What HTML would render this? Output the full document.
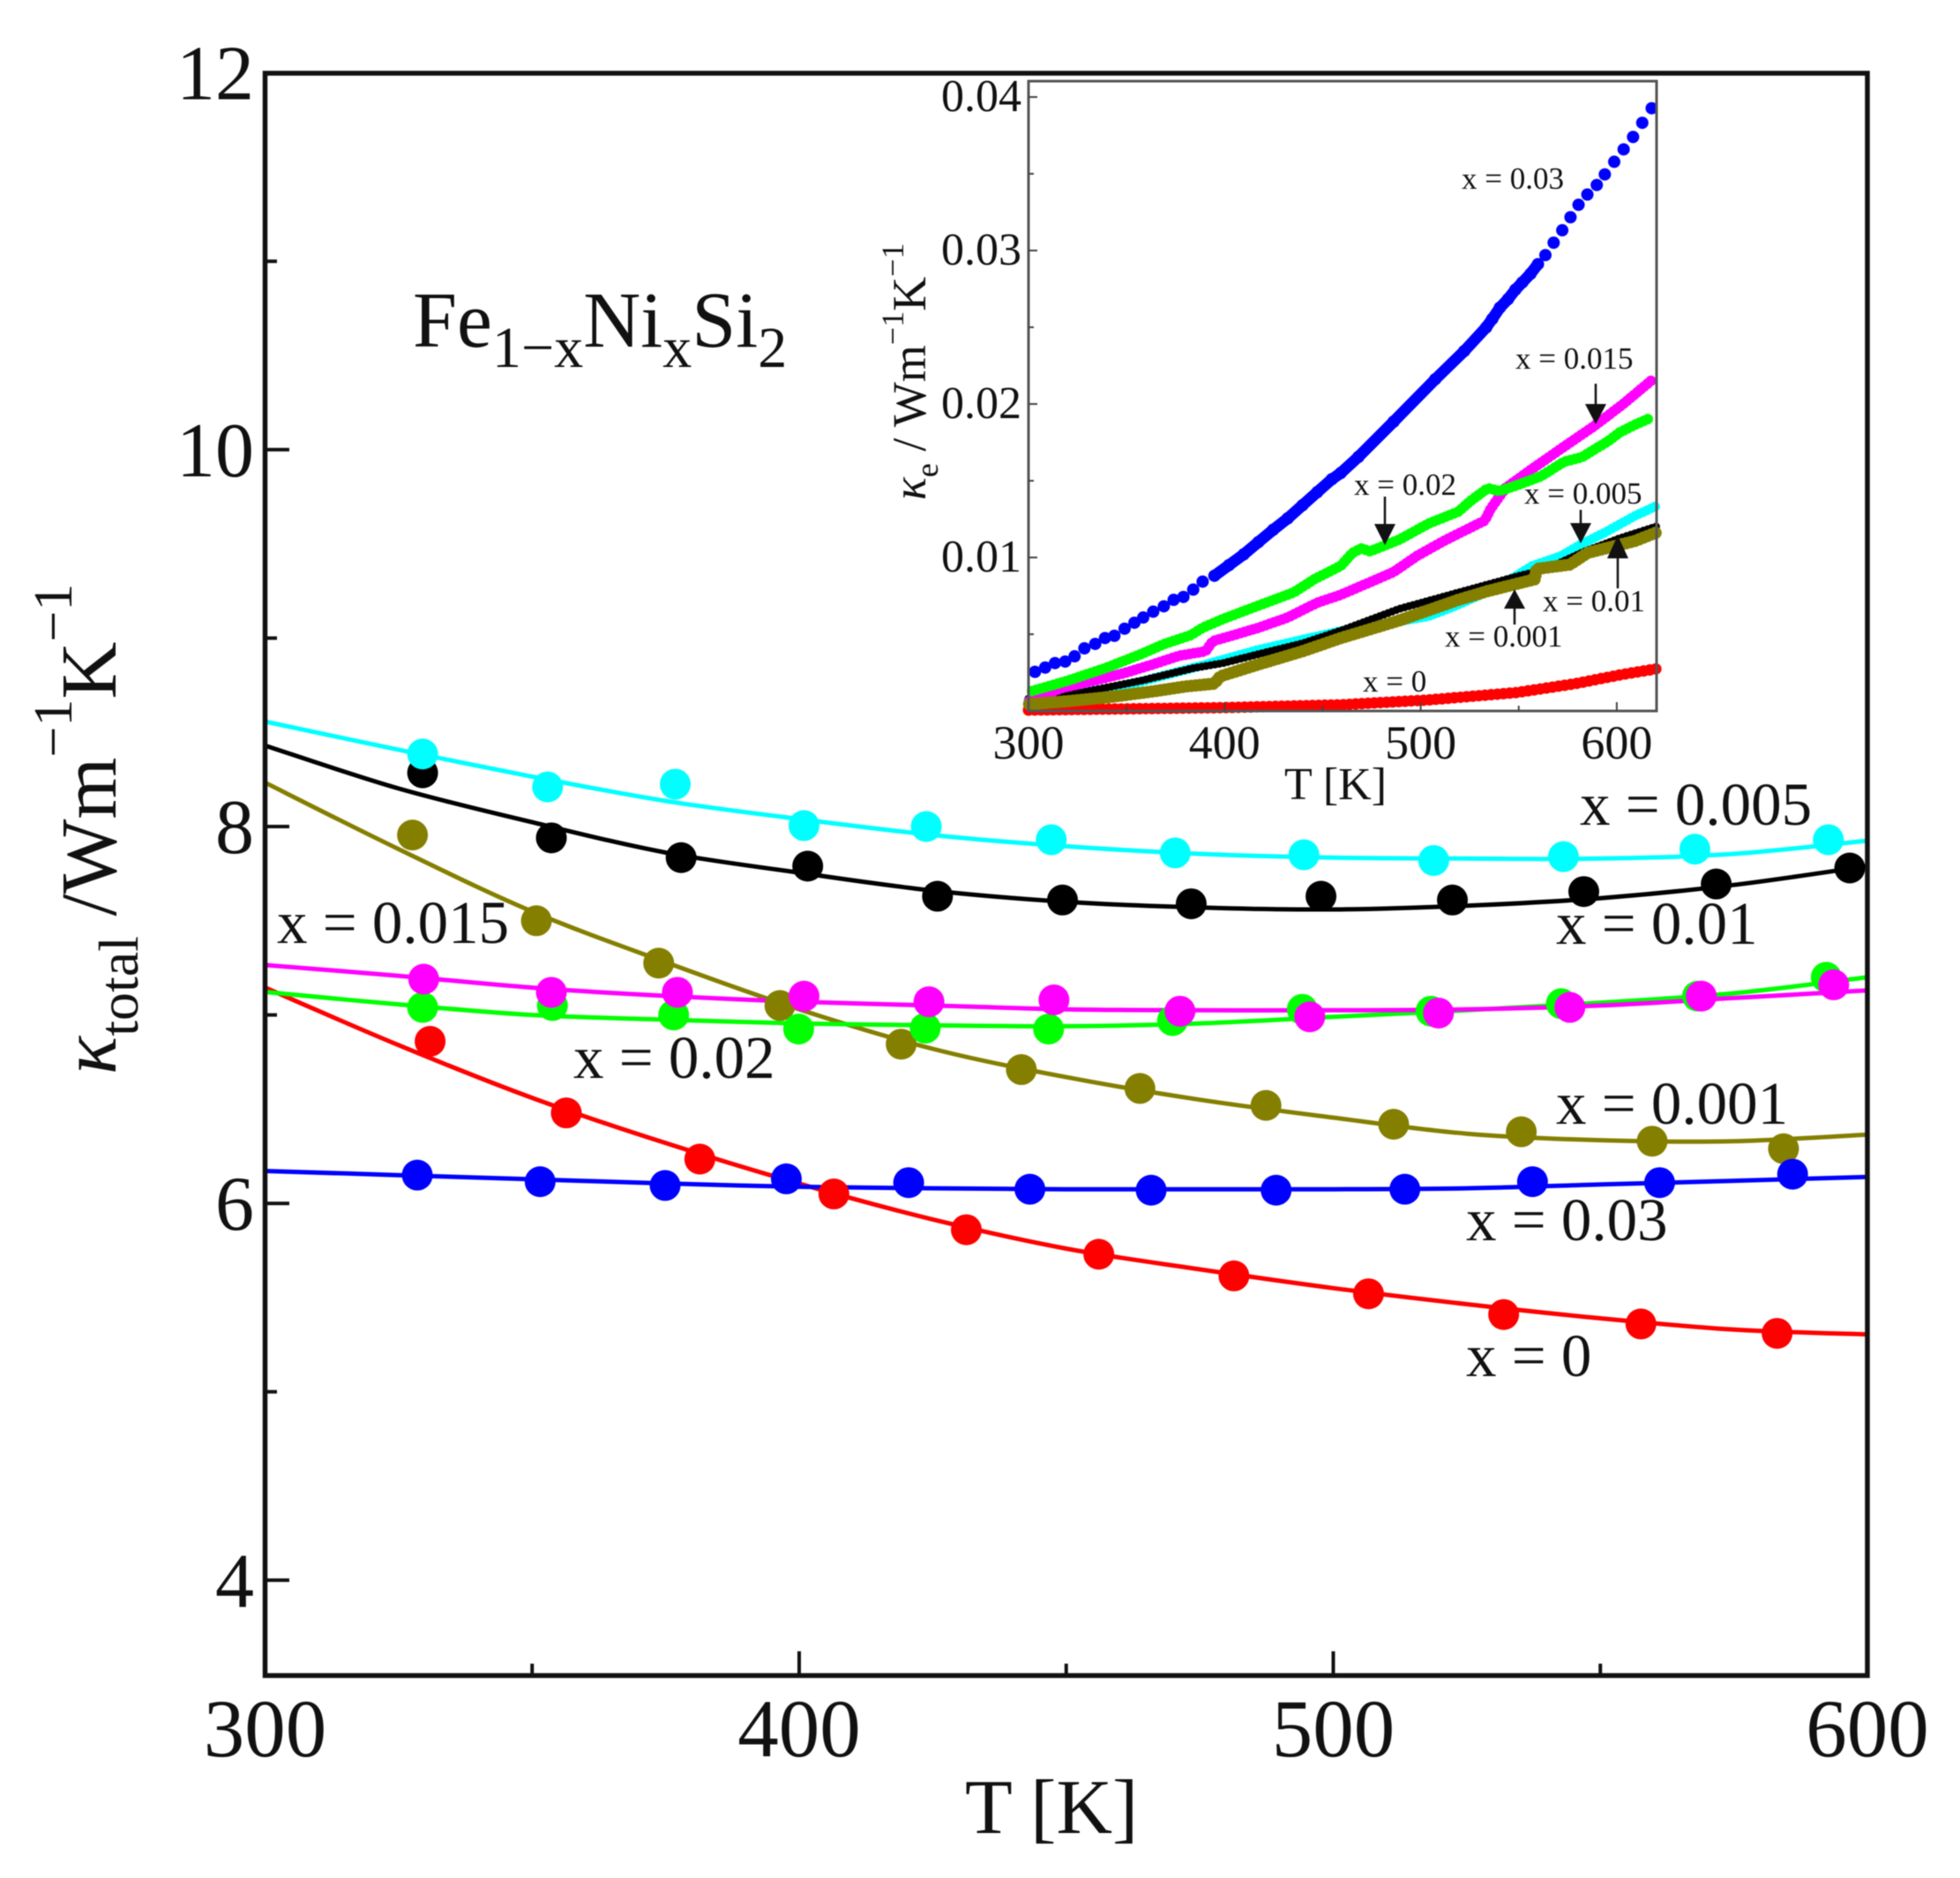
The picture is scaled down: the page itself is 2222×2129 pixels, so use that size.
<!DOCTYPE html>
<html lang="en">
<head>
<meta charset="utf-8">
<title>Fe1-xNixSi2 thermal conductivity</title>
<style>
html,body{margin:0;padding:0;background:#fff;}
body{width:2222px;height:2129px;overflow:hidden;}
svg{display:block;filter:blur(0.6px);}
text{font-family:"Liberation Serif","DejaVu Serif",serif;fill:#111;}
.lab{font-size:69px;}
.small{font-size:35px;}
</style>
</head>
<body>
<svg id="chart" xmlns="http://www.w3.org/2000/svg" width="2222" height="2129" viewBox="0 0 2222 2129">
  <rect x="0" y="0" width="2222" height="2129" fill="#fff"/>
  <g id="main-fit-lines"></g>
  <g id="main-points"></g>
  <rect x="300.5" y="83" width="1816.5" height="1816.5" fill="none" stroke="#111" stroke-width="5.5"/>
  <g id="main-ticks"></g>
  <g id="main-tick-labels"></g>

  <text x="1094" y="2078" font-size="88">T [K]</text>
  <text transform="translate(131 1218) rotate(-90)" font-size="90" xml:space="preserve"><tspan font-style="italic">κ</tspan><tspan font-size="64" dy="25">total</tspan><tspan dy="-25"> /Wm</tspan><tspan font-size="62" dy="-50">−1</tspan><tspan dy="50">K</tspan><tspan font-size="62" dy="-50">−1</tspan></text>
  <text x="468" y="393" font-size="90">Fe<tspan font-size="66" dy="23">1−x</tspan><tspan dy="-23">Ni</tspan><tspan font-size="66" dy="23">x</tspan><tspan dy="-23">Si</tspan><tspan font-size="66" dy="23">2</tspan></text>

  <text class="lab" x="1791" y="935">x = 0.005</text>
  <text class="lab" x="1764" y="1070">x = 0.01</text>
  <text class="lab" x="314" y="1069">x = 0.015</text>
  <text class="lab" x="650" y="1222">x = 0.02</text>
  <text class="lab" x="1764" y="1274">x = 0.001</text>
  <text class="lab" x="1662" y="1406">x = 0.03</text>
  <text class="lab" x="1662" y="1560">x = 0</text>

  <g id="inset">
    <g id="inset-series"></g>
    <rect x="1166" y="92" width="712" height="714" fill="none" stroke="#555" stroke-width="3"/>
    <g id="inset-ticks"></g>
    <g id="inset-tick-labels"></g>
    <text x="1456" y="906" font-size="52">T [K]</text>
    <text transform="translate(1049 567) rotate(-90)" font-size="54" xml:space="preserve"><tspan font-style="italic">κ</tspan><tspan font-size="36" dy="14">e</tspan><tspan dy="-14"> / Wm</tspan><tspan font-size="36" dy="-25">−1</tspan><tspan dy="25">K</tspan><tspan font-size="36" dy="-25">−1</tspan></text>

    <text class="small" x="1657" y="214">x = 0.03</text>
    <text class="small" x="1718" y="418">x = 0.015</text>
    <text class="small" x="1535" y="561">x = 0.02</text>
    <text class="small" x="1728" y="571">x = 0.005</text>
    <text class="small" x="1749" y="693">x = 0.01</text>
    <text class="small" x="1638" y="733">x = 0.001</text>
    <text class="small" x="1545" y="784">x = 0</text>

    <g><line x1="1809" y1="435" x2="1809" y2="460" stroke="#111" stroke-width="2.5"/><polygon points="1797,458 1821,458 1809,481" fill="#111"/></g>
    <g><line x1="1570" y1="563" x2="1570" y2="596" stroke="#111" stroke-width="2.5"/><polygon points="1558,594 1582,594 1570,618" fill="#111"/></g>
    <g><line x1="1792" y1="578" x2="1792" y2="597" stroke="#111" stroke-width="2.5"/><polygon points="1780,593 1804,593 1792,616" fill="#111"/></g>
    <g><line x1="1834" y1="667" x2="1834" y2="631" stroke="#111" stroke-width="2.5"/><polygon points="1822,633 1846,633 1834,607" fill="#111"/></g>
    <g><line x1="1717" y1="708" x2="1717" y2="688" stroke="#111" stroke-width="2.5"/><polygon points="1705,690 1729,690 1717,668" fill="#111"/></g>
  </g>
</svg>
<script>
// ---- main chart data (kappa_total vs T) ----
const fitT = [300,325,350,375,400,425,450,475,500,525,550,575,600];
const fitBlack = [8.43,8.202,8.023,7.862,7.755,7.66,7.60,7.57,7.56,7.58,7.62,7.69,7.79];
const fitCyan = [8.557,8.408,8.265,8.136,8.04,7.955,7.895,7.855,7.835,7.83,7.83,7.855,7.925];
const fitOlive = [8.233,7.88,7.549,7.28,7.03,6.82,6.67,6.55,6.455,6.37,6.335,6.33,6.365];
const fitRed = [7.145,6.84,6.56,6.32,6.105,5.915,5.76,5.65,5.55,5.465,5.39,5.33,5.305];
const fitBlue = [6.172,6.15,6.128,6.106,6.088,6.08,6.075,6.075,6.075,6.08,6.10,6.12,6.14];
const fitGreen = [7.122,7.056,7.0,6.975,6.955,6.945,6.94,6.955,6.99,7.025,7.065,7.115,7.20];
const fitMagenta = [7.265,7.208,7.145,7.101,7.07,7.05,7.03,7.025,7.025,7.03,7.05,7.09,7.13];

const ptBlackT = [329.5,353.6,377.9,401.6,425.9,449.3,473.4,497.7,522.3,546.9,571.7,596.7];
const ptBlack = [8.285,7.94,7.835,7.79,7.63,7.61,7.59,7.63,7.61,7.655,7.695,7.78];
const ptCyanT = [329.5,352.9,376.8,400.9,423.8,447.2,470.4,494.5,518.8,543.1,567.7,592.7];
const ptCyan = [8.385,8.21,8.225,8.005,8.0,7.93,7.86,7.85,7.82,7.84,7.88,7.93];
const ptOliveT = [327.6,350.8,373.7,396.4,419.1,441.6,463.8,487.4,511.3,535.2,559.7,584.3];
const ptOlive = [7.955,7.50,7.275,7.05,6.845,6.71,6.61,6.52,6.42,6.38,6.33,6.29];
const ptRedT = [330.9,356.4,381.4,406.5,431.3,456.1,481.4,506.6,531.9,557.6,583.1];
const ptRed = [6.86,6.48,6.235,6.05,5.86,5.73,5.615,5.52,5.41,5.36,5.31];
const ptBlueT = [328.5,351.5,374.9,397.6,420.5,443.2,465.9,489.3,513.4,537.3,561.1,586];
const ptBlue = [6.15,6.115,6.095,6.13,6.11,6.075,6.07,6.07,6.075,6.115,6.11,6.155];
const ptGreenT = [329.5,353.8,376.5,399.9,423.6,446.7,469.9,494.2,518.3,542.7,568.2,592.3];
const ptGreen = [7.04,7.05,7.00,6.925,6.93,6.925,6.97,7.03,7.02,7.06,7.10,7.20];
const ptMagentaT = [329.7,353.6,377.2,400.9,424.3,447.7,471.3,495.6,519.7,544.3,568.9,593.7];
const ptMagenta = [7.19,7.12,7.12,7.10,7.07,7.08,7.02,6.99,7.01,7.04,7.10,7.16];

const mainXMajor = [400,500];
const mainXMinor = [350,450,550];
const mainYMajor = [10,8,6,4];
const mainYMinor = [11,9,7,5];
const mainXLabels = [300,400,500,600];
const mainYLabels = [12,10,8,6,4];

// ---- inset data (kappa_e vs T) ----
const inRedT = [300,340,400,459.2,504,549,579,601.6,620];
const inRed = [0.00006,0.00012,0.00022,0.0004,0.00072,0.0012,0.00178,0.00235,0.00274];
const inBlueT = [303.3,308.5,313.5,318.7,323.5,328.5,334,339,343.8,349,354,358.5,363.6,369,374,379,384,388.8,394.8,402.2,409.7,417.2,424.7,432.2,439.7,447.2,454.7,459.2,468.2,486.2,507.4,522.2,533.4,536.5,540.4,544.5,548.3,551.8,556,559.8,563.6,567.8,572.2,576.4,580.5,585,589.8,593.9,598.7,603.5,608.3,613,617.8];
const inBlue = [0.00255,0.00283,0.00312,0.00322,0.00356,0.00408,0.00437,0.00475,0.0049,0.00536,0.00575,0.00609,0.00647,0.00682,0.00724,0.00743,0.00791,0.00843,0.00881,0.0095,0.0102,0.011,0.0118,0.01255,0.0134,0.01425,0.0151,0.0155,0.01655,0.01885,0.02161,0.02345,0.02499,0.02554,0.02628,0.02683,0.02745,0.02792,0.02848,0.02911,0.0297,0.03051,0.03132,0.03217,0.03298,0.03365,0.03427,0.03496,0.03578,0.03659,0.0374,0.03832,0.03927];
const inCyanT = [300,340,357,390,417,440,459,492,504,516,540,556.7,571.7,582.1,594.1,609.1,620.4];
const inCyan = [0.0007,0.00144,0.0019,0.00302,0.00398,0.00466,0.0052,0.0059,0.00618,0.00676,0.0081,0.00944,0.01011,0.01088,0.01164,0.0127,0.01337];
const inBlackT = [300,327.3,357.3,384.3,399.3,417.2,439.7,459.2,489.2,519.2,549.2,564.2,583.7,601.6,620.4];
const inBlack = [0.0008,0.00121,0.00197,0.0028,0.00312,0.0037,0.0044,0.00523,0.00666,0.00772,0.00877,0.00925,0.0104,0.01126,0.01203];
const inMagentaT = [300.3,316.8,333.3,348.3,363.3,376.8,390.3,394,402.2,417.2,432.2,447.2,459.2,474.2,486.2,498.2,511.7,523.7,532.7,535.7,543.2,556.7,571.7,588.2,603.1,617.4];
const inMagenta = [0.00063,0.00149,0.00197,0.00245,0.00303,0.0036,0.00389,0.00456,0.00485,0.00542,0.00609,0.00705,0.00757,0.00839,0.00906,0.01011,0.01107,0.01184,0.01241,0.01318,0.01452,0.01576,0.0171,0.01854,0.01998,0.02151];
const inGreenT = [301.8,320,340,357.3,369.3,382.8,388.8,399.3,417.2,435.2,445.7,459.2,465.2,469.7,474.2,489.2,504.2,519.2,525.2,534.2,540.2,549.2,561.2,573.2,582.1,595.6,601.6,609.1,615.9];
const inGreen = [0.0013,0.00197,0.00283,0.0037,0.00437,0.00494,0.00542,0.006,0.00686,0.00772,0.00858,0.00945,0.0103,0.01059,0.0104,0.01117,0.01222,0.01299,0.01366,0.01452,0.01433,0.01471,0.01528,0.01624,0.01653,0.01758,0.01816,0.01864,0.01902];
const inOliveT = [300.3,319.8,342.3,364.8,379.8,394.8,397.8,417.2,439.7,459.2,489.2,519.2,534.2,558.2,559,576.1,585.1,609.1,620.4];
const inOlive = [0.00044,0.00063,0.00092,0.0013,0.00159,0.00178,0.00226,0.00303,0.00389,0.00475,0.0059,0.00724,0.00781,0.00858,0.00925,0.00954,0.0103,0.01107,0.01164];

const inXMajor = [400,500,600];
const inXMinor = [350,450,550];
const inYMajor = [0.01,0.02,0.03,0.04];
const inYMinor = [0.005,0.015,0.025,0.035];
const inXLabels = [300,400,500,600];
const inYLabels = ['0.01','0.02','0.03','0.04'];

// ---- axis functions ----
function mainX(t){ return 300.5 + (t-300)*6.055; }
function mainY(v){ return 937 + (8-v)*213.6; }
function inX(t){ return 1166 + (t-300)*2.223; }
function inY(k){ return 806 - k*17400; }

const NS = 'http://www.w3.org/2000/svg';
function make(tag, parent, attrs){
  const el = document.createElementNS(NS, tag);
  for (const key in attrs) el.setAttribute(key, attrs[key]);
  parent.appendChild(el);
  return el;
}
function spline(xs, ys){
  let d = 'M' + xs[0].toFixed(1) + ' ' + ys[0].toFixed(1);
  for (let i = 0; i < xs.length-1; i++){
    const a = Math.max(i-1,0), b = Math.min(i+2,xs.length-1);
    const c1x = xs[i] + (xs[i+1]-xs[a])/6, c1y = ys[i] + (ys[i+1]-ys[a])/6;
    const c2x = xs[i+1] - (xs[b]-xs[i])/6, c2y = ys[i+1] - (ys[b]-ys[i])/6;
    d += 'C' + c1x.toFixed(1) + ' ' + c1y.toFixed(1) + ' ' + c2x.toFixed(1) + ' ' + c2y.toFixed(1) + ' ' + xs[i+1].toFixed(1) + ' ' + ys[i+1].toFixed(1);
  }
  return d;
}

// ---- main series ----
const linesG = document.getElementById('main-fit-lines');
const pointsG = document.getElementById('main-points');
function drawMain(key, color, fit, ptT, pt){
  const path = make('path', linesG, {d: spline(fitT.map(mainX), fit.map(mainY)), fill:'none', stroke:color, 'stroke-width':5});
  
  
  ptT.forEach(function(t,i){
    const c = make('circle', pointsG, {cx: mainX(t), cy: mainY(pt[i]), r: 17.5, fill: color});
    
    
  });
}
drawMain('x-0.01', '#000000', fitBlack, ptBlackT, ptBlack);
drawMain('x-0.005', '#00ffff', fitCyan, ptCyanT, ptCyan);
drawMain('x-0.001', '#857f00', fitOlive, ptOliveT, ptOlive);
drawMain('x-0', '#ff0000', fitRed, ptRedT, ptRed);
drawMain('x-0.03', '#0000ff', fitBlue, ptBlueT, ptBlue);
drawMain('x-0.02', '#00ff00', fitGreen, ptGreenT, ptGreen);
drawMain('x-0.015', '#ff00ff', fitMagenta, ptMagentaT, ptMagenta);

// ---- main ticks and labels ----
const ticksG = document.getElementById('main-ticks');
function mainTick(x1,y1,x2,y2){
  const l = make('line', ticksG, {x1:x1, y1:y1, x2:x2, y2:y2, stroke:'#111', 'stroke-width':4});
  
  
}
mainXMajor.forEach(function(t){ mainTick(mainX(t),1899,mainX(t),1872); });
mainXMinor.forEach(function(t){ mainTick(mainX(t),1899,mainX(t),1886); });
mainYMajor.forEach(function(v){ mainTick(300,mainY(v),328,mainY(v)); });
mainYMinor.forEach(function(v){ mainTick(300,mainY(v),314,mainY(v)); });

const mainLabG = document.getElementById('main-tick-labels');
mainXLabels.forEach(function(t){
  const el = make('text', mainLabG, {x: mainX(t), y: 1991, 'font-size': 93, 'text-anchor':'middle'});
  el.textContent = t;
  
  
});
mainYLabels.forEach(function(v){
  const el = make('text', mainLabG, {x: 288, y: mainY(v)+30, 'font-size': 88, 'text-anchor':'end'});
  el.textContent = v;
  
  
});

// ---- inset series ----
const inG = document.getElementById('inset-series');
function pathOf(ts, ks){
  let d = '';
  ts.forEach(function(t,i){ d += (i ? 'L' : 'M') + inX(t).toFixed(1) + ' ' + inY(ks[i]).toFixed(1); });
  return d;
}
function drawInset(key, color, ts, ks, width, gap){
  const p = make('path', inG, {d:pathOf(ts,ks), fill:'none', stroke:color, 'stroke-width':width, 'stroke-linecap':'round', 'stroke-linejoin':'round', 'stroke-dasharray':'0 ' + gap});
  
  
}
function drawInsetDots(key, color, ts, ks, radius, bandFrom, bandTo, width){
  const keepT = ts.filter(function(t){ return t >= bandFrom && t <= bandTo; });
  const keepK = ks.filter(function(k,i){ return ts[i] >= bandFrom && ts[i] <= bandTo; });
  const p = make('path', inG, {d:pathOf(keepT,keepK), fill:'none', stroke:color, 'stroke-width':width, 'stroke-linecap':'round', 'stroke-linejoin':'round'});
  
  
  ts.forEach(function(t,i){
    const c = make('circle', inG, {cx: inX(t), cy: inY(ks[i]), r: radius, fill: color});
    
    
  });
}
drawInset('x-0', '#ff0000', inRedT, inRed, 13, 7);
drawInsetDots('x-0.03', '#0000ff', inBlueT, inBlue, 7, 394, 560, 13);
drawInset('x-0.005', '#00ffff', inCyanT, inCyan, 11, 5);
drawInset('x-0.01', '#000000', inBlackT, inBlack, 9, 5);
drawInset('x-0.015', '#ff00ff', inMagentaT, inMagenta, 12, 5);
drawInset('x-0.02', '#00ff00', inGreenT, inGreen, 12, 5);
drawInset('x-0.001', '#857f00', inOliveT, inOlive, 14, 5);

// ---- inset ticks and labels ----
const inTicksG = document.getElementById('inset-ticks');
function inTick(x1,y1,x2,y2){
  const l = make('line', inTicksG, {x1:x1, y1:y1, x2:x2, y2:y2, stroke:'#444', 'stroke-width':2});
  
  
}
inXMajor.forEach(function(t){ inTick(inX(t),806,inX(t),796); });
inXMinor.forEach(function(t){ inTick(inX(t),806,inX(t),800); });
inYMajor.forEach(function(k){ inTick(1166,inY(k),1176,inY(k)); });
inYMinor.forEach(function(k){ inTick(1166,inY(k),1172,inY(k)); });

const inLabG = document.getElementById('inset-tick-labels');
inXLabels.forEach(function(t){
  const el = make('text', inLabG, {x: inX(t), y: 860, 'font-size': 54, 'text-anchor':'middle'});
  el.textContent = t;
  
  
});
inYLabels.forEach(function(s){
  const el = make('text', inLabG, {x: 1158, y: inY(parseFloat(s))+16, 'font-size': 52, 'text-anchor':'end'});
  el.textContent = s;
  
  
});
</script>
</body>
</html>
